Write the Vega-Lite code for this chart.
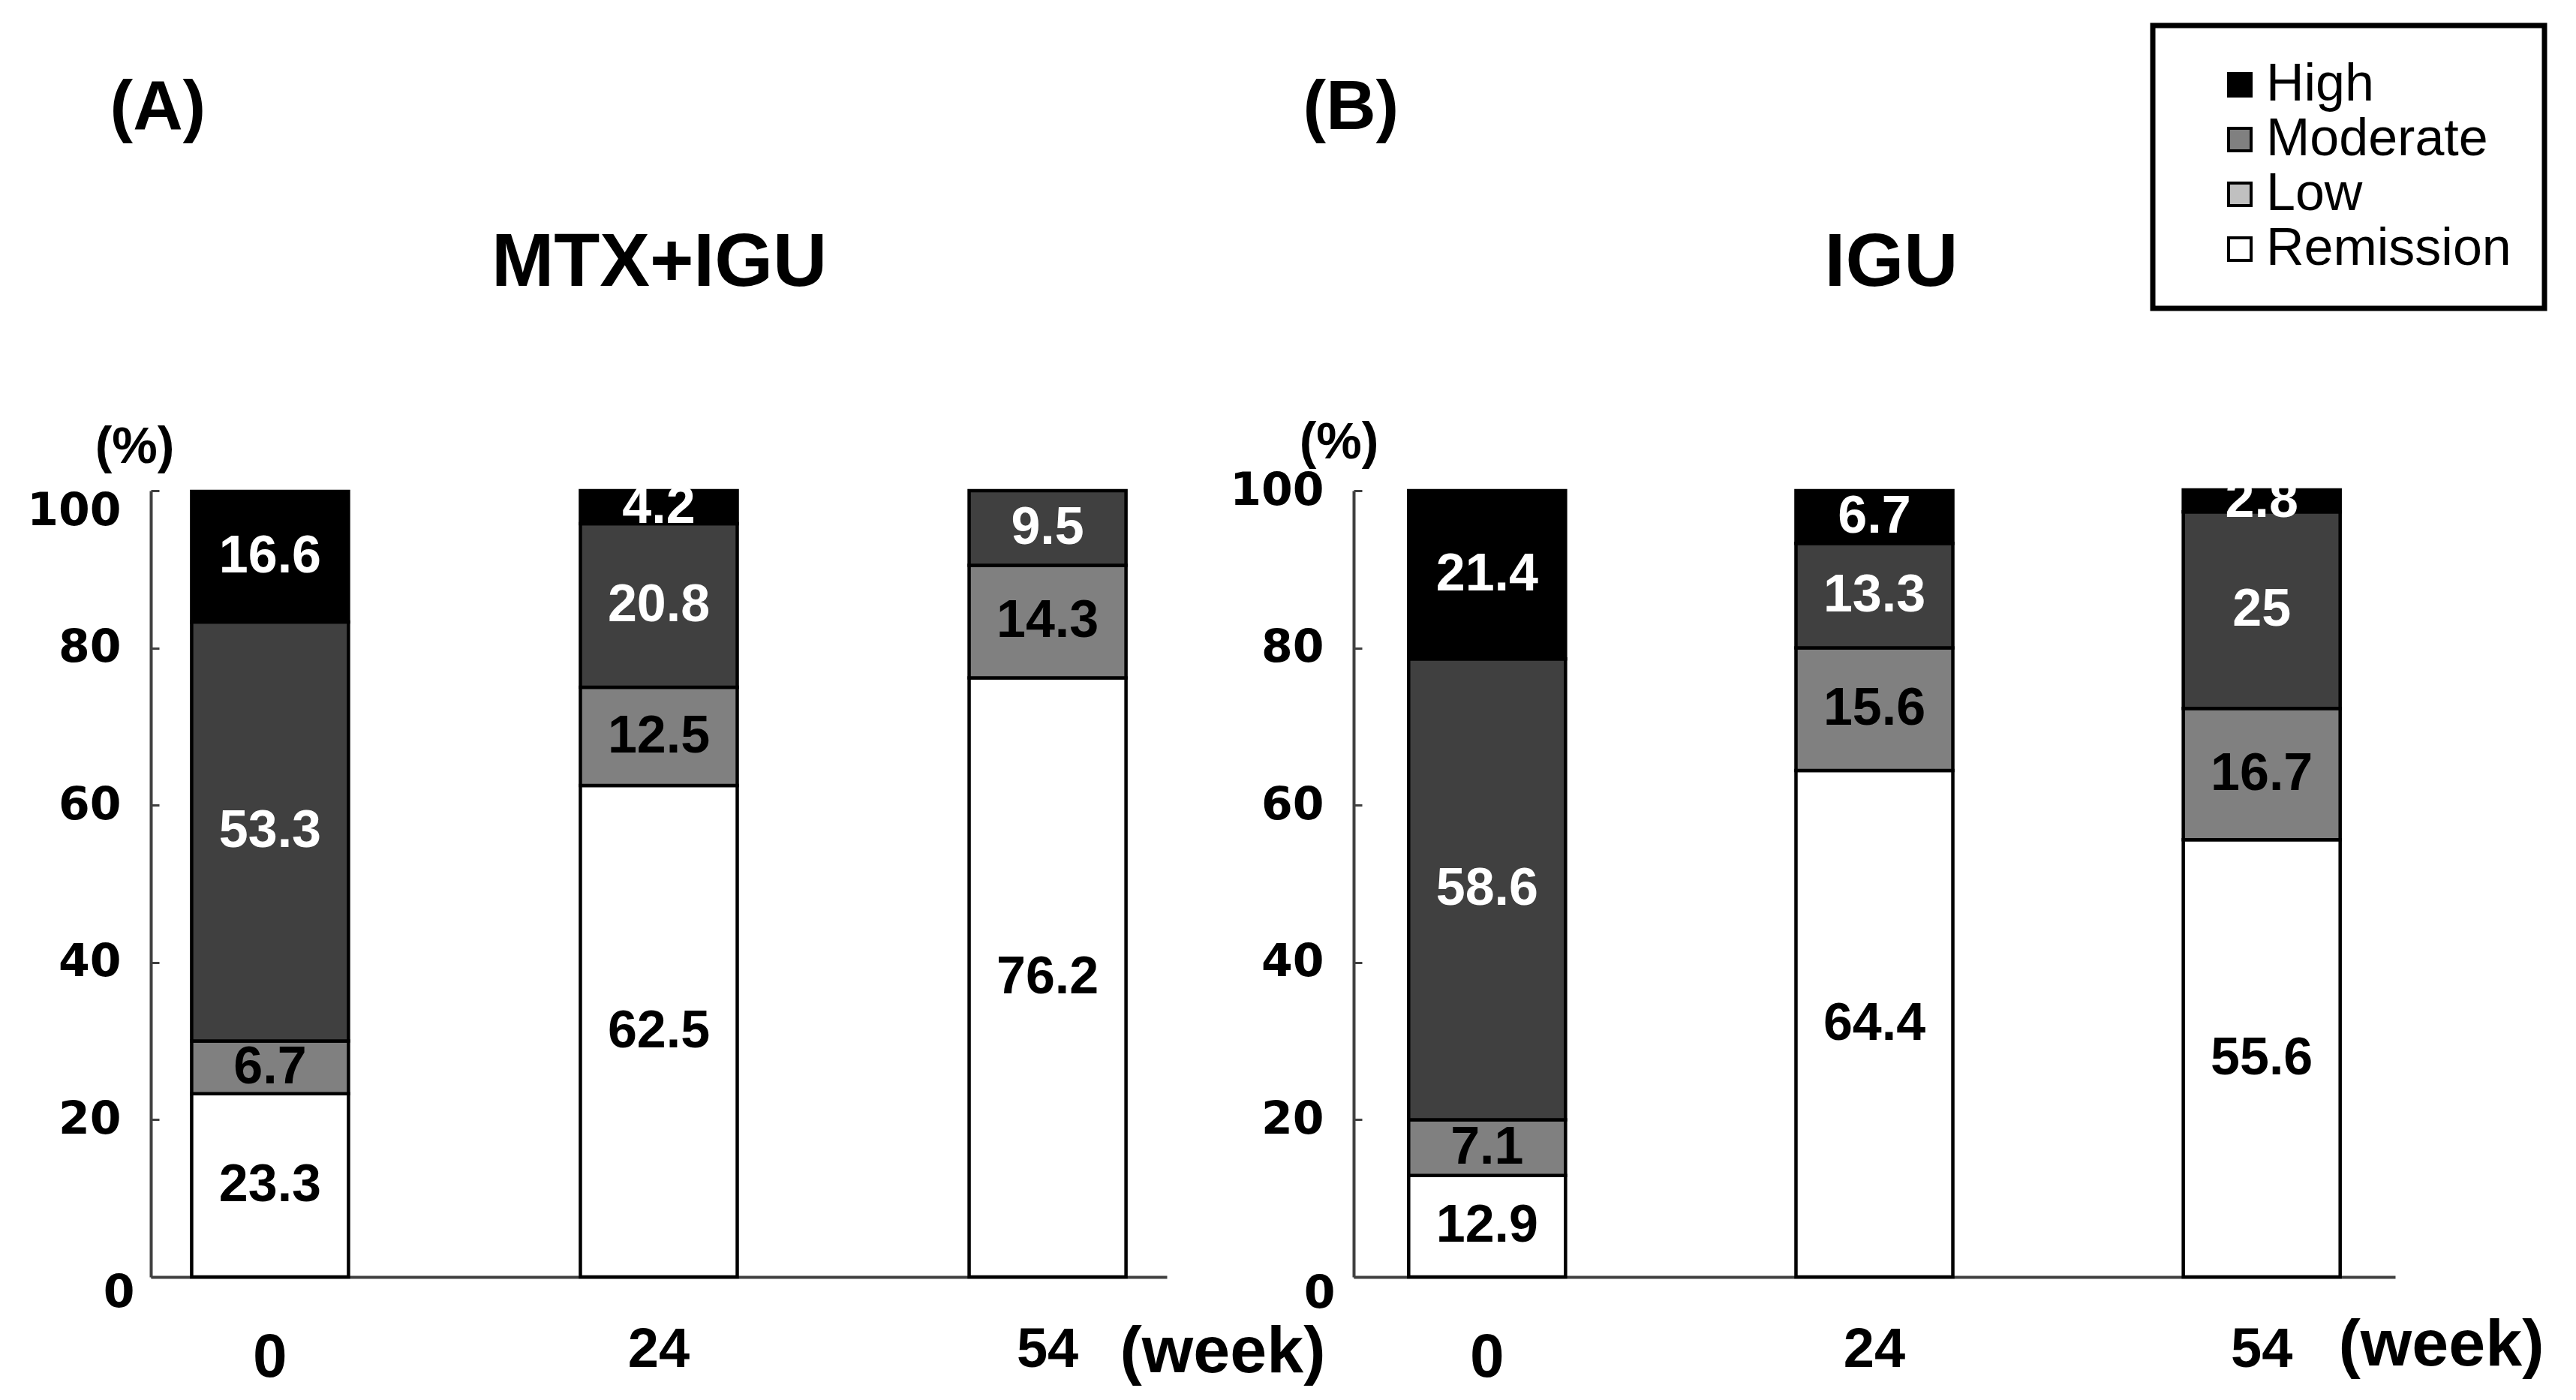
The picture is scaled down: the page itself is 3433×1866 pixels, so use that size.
{
  "$schema": "https://vega.github.io/schema/vega-lite/v6.json",
  "background": "white",
  "padding": {"left": 35, "top": 30, "right": 5, "bottom": 5},
  "bounds": "flush",
  "spacing": 249,
  "data": {
    "values": [
      {"panel": "A", "week": 0, "level": "Remission", "rank": 1, "value": 23.3},
      {"panel": "A", "week": 0, "level": "Low", "rank": 2, "value": 6.7},
      {"panel": "A", "week": 0, "level": "Moderate", "rank": 3, "value": 53.3},
      {"panel": "A", "week": 0, "level": "High", "rank": 4, "value": 16.6},
      {"panel": "A", "week": 24, "level": "Remission", "rank": 1, "value": 62.5},
      {"panel": "A", "week": 24, "level": "Low", "rank": 2, "value": 12.5},
      {"panel": "A", "week": 24, "level": "Moderate", "rank": 3, "value": 20.8},
      {"panel": "A", "week": 24, "level": "High", "rank": 4, "value": 4.2},
      {"panel": "A", "week": 54, "level": "Remission", "rank": 1, "value": 76.2},
      {"panel": "A", "week": 54, "level": "Low", "rank": 2, "value": 14.3},
      {"panel": "A", "week": 54, "level": "Moderate", "rank": 3, "value": 9.5},
      {"panel": "B", "week": 0, "level": "Remission", "rank": 1, "value": 12.9},
      {"panel": "B", "week": 0, "level": "Low", "rank": 2, "value": 7.1},
      {"panel": "B", "week": 0, "level": "Moderate", "rank": 3, "value": 58.6},
      {"panel": "B", "week": 0, "level": "High", "rank": 4, "value": 21.4},
      {"panel": "B", "week": 24, "level": "Remission", "rank": 1, "value": 64.4},
      {"panel": "B", "week": 24, "level": "Low", "rank": 2, "value": 15.6},
      {"panel": "B", "week": 24, "level": "Moderate", "rank": 3, "value": 13.3},
      {"panel": "B", "week": 24, "level": "High", "rank": 4, "value": 6.7},
      {"panel": "B", "week": 54, "level": "Remission", "rank": 1, "value": 55.6},
      {"panel": "B", "week": 54, "level": "Low", "rank": 2, "value": 16.7},
      {"panel": "B", "week": 54, "level": "Moderate", "rank": 3, "value": 25},
      {"panel": "B", "week": 54, "level": "High", "rank": 4, "value": 2.8}
    ]
  },
  "hconcat": [
    {
      "width": 1354,
      "height": 1048,
      "transform": [{"filter": "datum.panel === 'A'"}],
      "resolve": {"axis": {"x": "independent"}},
      "layer": [
        {
          "mark": {"type": "bar", "stroke": "black", "strokeWidth": 4.5},
          "encoding": {
            "x": {
              "field": "week", "type": "ordinal",
              "scale": {"paddingInner": 0.5965, "paddingOuter": 0.105},
              "axis": {
                "title": "(week)", "titleX": 1428, "titleY": 100, "titleAlign": "center", "titleBaseline": "middle",
                "titleFontSize": 88, "titleFontWeight": "bold", "titleFont": "Liberation Sans",
                "labelAngle": 0, "ticks": false, "tickSize": 0, "labelBaseline": "middle",
                "labelFont": "Liberation Sans", "labelFontWeight": "bold",
                "labelFontSize": {"condition": {"test": "datum.value === 0", "value": 82}, "value": 74},
                "labelPadding": {"condition": {"test": "datum.value === 0", "value": 107}, "value": 97}
              }
            },
            "y": {
              "field": "value", "type": "quantitative", "stack": "zero",
              "scale": {"domain": [0, 100], "nice": false},
              "axis": {
                "title": "(%)", "titleAngle": 0, "titleX": -22, "titleY": -58, "titleAlign": "center", "titleBaseline": "middle",
                "titleFont": "Liberation Sans", "titleFontSize": 68, "titleFontWeight": "bold",
                "values": [0, 20, 40, 60, 80, 100], "tickSize": -11,
                "labelFont": "DejaVu Sans", "labelFontWeight": "bold", "labelFontSize": 60,
                "labelPadding": {"condition": {"test": "datum.value === 0", "value": 33}, "value": 51},
                "labelOffset": {"condition": [{"test": "datum.value === 100", "value": 27}, {"test": "datum.value === 0", "value": 21}], "value": 0}
              }
            },
            "fill": {
              "field": "level", "type": "nominal",
              "scale": {"domain": ["Remission", "Low", "Moderate", "High"], "range": ["#ffffff", "#808080", "#404040", "#000000"]},
              "legend": null
            },
            "order": {"field": "rank", "type": "quantitative"}
          }
        },
        {
          "transform": [
            {"stack": "value", "groupby": ["week"], "sort": [{"field": "rank", "order": "ascending"}], "as": ["v0", "v1"]},
            {"fold": ["v0", "v1"], "as": ["edgeKey", "edge"]},
            {"aggregate": [{"op": "mean", "field": "edge", "as": "mid"}], "groupby": ["week", "level", "rank", "value"]}
          ],
          "mark": {"type": "text", "font": "Liberation Sans", "fontWeight": "bold", "fontSize": 70, "baseline": "middle", "align": "center"},
          "encoding": {
            "x": {
              "field": "week", "type": "ordinal",
              "axis": {
                "orient": "top", "title": "MTX+IGU", "labels": false, "ticks": false, "domain": false,
                "titleX": 677, "titleY": -274, "titleAlign": "center", "titleBaseline": "alphabetic", "titleAngle": 0,
                "titleFont": "Liberation Sans", "titleFontSize": 100, "titleFontWeight": "bold"
              }
            },
            "y": {"field": "mid", "type": "quantitative"},
            "text": {"field": "value", "type": "nominal"},
            "color": {"condition": {"test": "datum.rank >= 3", "value": "#ffffff"}, "value": "#000000"}
          }
        },
        {
          "mark": {"type": "point", "filled": true, "shape": "square", "size": 0, "opacity": 1},
          "encoding": {
            "x": {
              "field": "week", "type": "ordinal",
              "axis": {
                "orient": "top", "title": "(A)", "labels": false, "ticks": false, "domain": false,
                "titleX": -55, "titleY": -483, "titleAlign": "left", "titleBaseline": "alphabetic", "titleAngle": 0,
                "titleFont": "Liberation Sans", "titleFontSize": 92, "titleFontWeight": "bold"
              }
            },
            "y": {"field": "value", "type": "quantitative"},
            "color": {
              "field": "level", "type": "nominal",
              "scale": {"domain": ["High", "Moderate", "Low", "Remission"], "range": ["#000000", "#808080", "#c0c0c0", "#ffffff"]},
              "legend": {
                "title": null, "orient": "none", "legendX": 2668, "legendY": -620,
                "symbolType": "square", "symbolSize": 900, "symbolStrokeWidth": 4, "symbolStrokeColor": "black", "symbolOpacity": 1,
                "labelFont": "Liberation Sans", "labelFontSize": 70, "labelColor": "black", "labelOffset": 0, "labelLimit": 600,
                "symbolOffset": 37, "padding": 44, "rowPadding": 3,
                "strokeColor": "black", "fillColor": "white"
              }
            }
          }
        }
      ]
    },
    {
      "width": 1388,
      "height": 1048,
      "transform": [{"filter": "datum.panel === 'B'"}],
      "resolve": {"axis": {"x": "independent"}},
      "layer": [
        {
          "mark": {"type": "bar", "stroke": "black", "strokeWidth": 4.5},
          "encoding": {
            "x": {
              "field": "week", "type": "ordinal",
              "scale": {"paddingInner": 0.595, "paddingOuter": 0.142},
              "axis": {
                "title": "(week)", "titleX": 1449, "titleY": 91, "titleAlign": "center", "titleBaseline": "middle",
                "titleFontSize": 88, "titleFontWeight": "bold", "titleFont": "Liberation Sans",
                "labelAngle": 0, "ticks": false, "tickSize": 0, "labelBaseline": "middle",
                "labelFont": "Liberation Sans", "labelFontWeight": "bold",
                "labelFontSize": {"condition": {"test": "datum.value === 0", "value": 82}, "value": 74},
                "labelPadding": {"condition": {"test": "datum.value === 0", "value": 107}, "value": 97}
              }
            },
            "y": {
              "field": "value", "type": "quantitative", "stack": "zero",
              "scale": {"domain": [0, 100], "nice": false},
              "axis": {
                "title": "(%)", "titleAngle": 0, "titleX": -20, "titleY": -64, "titleAlign": "center", "titleBaseline": "middle",
                "titleFont": "Liberation Sans", "titleFontSize": 68, "titleFontWeight": "bold",
                "values": [0, 20, 40, 60, 80, 100], "tickSize": -11,
                "labelFont": "DejaVu Sans", "labelFontWeight": "bold", "labelFontSize": 60,
                "labelPadding": {"condition": {"test": "datum.value === 0", "value": 36}, "value": 51},
                "labelOffset": {"condition": {"test": "datum.value === 0", "value": 22}, "value": 0}
              }
            },
            "fill": {
              "field": "level", "type": "nominal",
              "scale": {"domain": ["Remission", "Low", "Moderate", "High"], "range": ["#ffffff", "#808080", "#404040", "#000000"]},
              "legend": null
            },
            "order": {"field": "rank", "type": "quantitative"}
          }
        },
        {
          "transform": [
            {"stack": "value", "groupby": ["week"], "sort": [{"field": "rank", "order": "ascending"}], "as": ["v0", "v1"]},
            {"fold": ["v0", "v1"], "as": ["edgeKey", "edge"]},
            {"aggregate": [{"op": "mean", "field": "edge", "as": "mid"}], "groupby": ["week", "level", "rank", "value"]}
          ],
          "mark": {"type": "text", "font": "Liberation Sans", "fontWeight": "bold", "fontSize": 70, "baseline": "middle", "align": "center"},
          "encoding": {
            "x": {
              "field": "week", "type": "ordinal",
              "axis": {
                "orient": "top", "title": "IGU", "labels": false, "ticks": false, "domain": false,
                "titleX": 716, "titleY": -274, "titleAlign": "center", "titleBaseline": "alphabetic", "titleAngle": 0,
                "titleFont": "Liberation Sans", "titleFontSize": 100, "titleFontWeight": "bold"
              }
            },
            "y": {"field": "mid", "type": "quantitative"},
            "text": {"field": "value", "type": "nominal"},
            "color": {"condition": {"test": "datum.rank >= 3", "value": "#ffffff"}, "value": "#000000"}
          }
        },
        {
          "mark": {"type": "point", "filled": true, "shape": "square", "size": 0, "opacity": 0},
          "encoding": {
            "x": {
              "field": "week", "type": "ordinal",
              "axis": {
                "orient": "top", "title": "(B)", "labels": false, "ticks": false, "domain": false,
                "titleX": -68, "titleY": -483, "titleAlign": "left", "titleBaseline": "alphabetic", "titleAngle": 0,
                "titleFont": "Liberation Sans", "titleFontSize": 92, "titleFontWeight": "bold"
              }
            },
            "y": {"field": "value", "type": "quantitative"}
          }
        }
      ]
    }
  ],
  "config": {
    "view": {"stroke": null},
    "font": "Liberation Sans",
    "axis": {"domainColor": "#404040", "domainWidth": 4, "tickColor": "#404040", "tickWidth": 3, "grid": false, "labelColor": "black", "titleColor": "black"},
    "legend": {"strokeWidth": 7},
    "title": {"color": "black", "font": "Liberation Sans", "fontWeight": "bold"}
  }
}
